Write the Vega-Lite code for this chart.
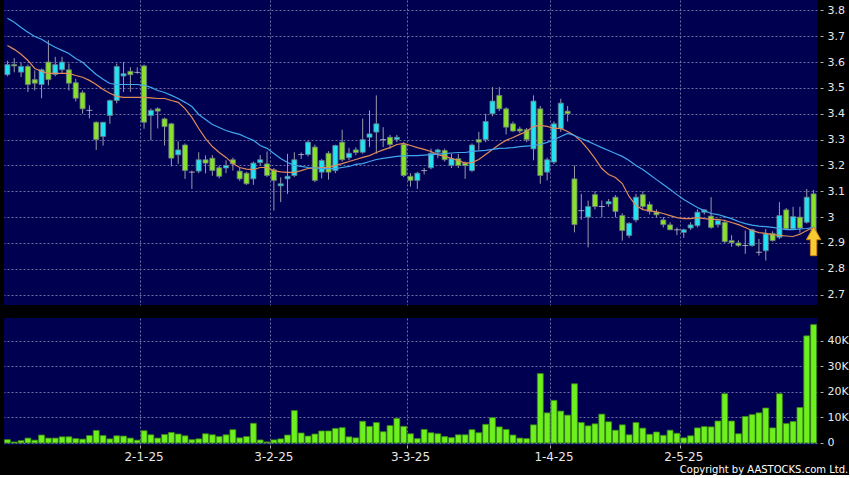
{
  "$schema": "https://vega.github.io/schema/vega-lite/v6.json",
  "background": "#000000",
  "padding": {"left": 4, "top": 0, "right": 0, "bottom": 0},
  "config": {
    "view": {"fill": "#000050", "stroke": null},
    "font": "DejaVu Sans",
    "axis": {"labelFont": "DejaVu Sans", "labelColor": "#e8e8e8", "labelFontSize": 11, "labelOverlap": false, "gridColor": "#7070a0", "gridDash": [2, 2], "gridWidth": 1, "tickColor": "#b0b0b0", "domain": false, "title": null},
    "concat": {"spacing": 13}
  },
  "title": {"text": "Copyright by AASTOCKS.com Ltd.", "orient": "bottom", "anchor": "end", "color": "#ffffff", "fontSize": 10, "font": "DejaVu Sans", "fontWeight": "normal", "offset": 3},
  "datasets": {
    "k": [
      {"date": "2024-12-02", "open": 3.551, "high": 3.605, "low": 3.545, "close": 3.59, "volume": 1300, "ma10": 3.664, "ma20": 3.769},
      {"date": "2024-12-03", "open": 3.59, "high": 3.615, "low": 3.56, "close": 3.585, "volume": 400, "ma10": 3.649, "ma20": 3.754},
      {"date": "2024-12-04", "open": 3.561, "high": 3.597, "low": 3.542, "close": 3.583, "volume": 900, "ma10": 3.63, "ma20": 3.734},
      {"date": "2024-12-05", "open": 3.583, "high": 3.59, "low": 3.484, "close": 3.513, "volume": 1900, "ma10": 3.606, "ma20": 3.715},
      {"date": "2024-12-06", "open": 3.532, "high": 3.568, "low": 3.49, "close": 3.518, "volume": 1100, "ma10": 3.575, "ma20": 3.699},
      {"date": "2024-12-09", "open": 3.513, "high": 3.575, "low": 3.46, "close": 3.57, "volume": 3100, "ma10": 3.564, "ma20": 3.688},
      {"date": "2024-12-10", "open": 3.6, "high": 3.684, "low": 3.51, "close": 3.532, "volume": 1900, "ma10": 3.556, "ma20": 3.672},
      {"date": "2024-12-11", "open": 3.552, "high": 3.62, "low": 3.545, "close": 3.59, "volume": 1900, "ma10": 3.556, "ma20": 3.657},
      {"date": "2024-12-12", "open": 3.57, "high": 3.62, "low": 3.555, "close": 3.6, "volume": 2400, "ma10": 3.556, "ma20": 3.645},
      {"date": "2024-12-13", "open": 3.57, "high": 3.594, "low": 3.49, "close": 3.518, "volume": 2400, "ma10": 3.556, "ma20": 3.633},
      {"date": "2024-12-16", "open": 3.52, "high": 3.535, "low": 3.448, "close": 3.46, "volume": 1700, "ma10": 3.548, "ma20": 3.614},
      {"date": "2024-12-17", "open": 3.481, "high": 3.49, "low": 3.4, "close": 3.419, "volume": 1500, "ma10": 3.541, "ma20": 3.599},
      {"date": "2024-12-18", "open": 3.413, "high": 3.432, "low": 3.382, "close": 3.413, "volume": 2900, "ma10": 3.529, "ma20": 3.575},
      {"date": "2024-12-19", "open": 3.367, "high": 3.37, "low": 3.26, "close": 3.3, "volume": 4900, "ma10": 3.513, "ma20": 3.552},
      {"date": "2024-12-20", "open": 3.312, "high": 3.367, "low": 3.277, "close": 3.367, "volume": 2900, "ma10": 3.494, "ma20": 3.533},
      {"date": "2024-12-23", "open": 3.393, "high": 3.455, "low": 3.361, "close": 3.451, "volume": 1600, "ma10": 3.479, "ma20": 3.517},
      {"date": "2024-12-24", "open": 3.451, "high": 3.594, "low": 3.44, "close": 3.583, "volume": 2800, "ma10": 3.467, "ma20": 3.513},
      {"date": "2024-12-27", "open": 3.546, "high": 3.6, "low": 3.484, "close": 3.555, "volume": 2700, "ma10": 3.463, "ma20": 3.513},
      {"date": "2024-12-30", "open": 3.564, "high": 3.58, "low": 3.484, "close": 3.551, "volume": 1900, "ma10": 3.463, "ma20": 3.513},
      {"date": "2024-12-31", "open": 3.56, "high": 3.58, "low": 3.555, "close": 3.56, "volume": 1100, "ma10": 3.463, "ma20": 3.513},
      {"date": "2025-01-02", "open": 3.585, "high": 3.59, "low": 3.342, "close": 3.367, "volume": 4800, "ma10": 3.463, "ma20": 3.51},
      {"date": "2025-01-03", "open": 3.393, "high": 3.42, "low": 3.297, "close": 3.413, "volume": 3200, "ma10": 3.461, "ma20": 3.502},
      {"date": "2025-01-06", "open": 3.419, "high": 3.425, "low": 3.343, "close": 3.41, "volume": 1900, "ma10": 3.459, "ma20": 3.49},
      {"date": "2025-01-07", "open": 3.38, "high": 3.385, "low": 3.277, "close": 3.35, "volume": 3300, "ma10": 3.459, "ma20": 3.482},
      {"date": "2025-01-08", "open": 3.361, "high": 3.365, "low": 3.196, "close": 3.228, "volume": 4100, "ma10": 3.451, "ma20": 3.471},
      {"date": "2025-01-09", "open": 3.241, "high": 3.293, "low": 3.206, "close": 3.26, "volume": 3500, "ma10": 3.444, "ma20": 3.459},
      {"date": "2025-01-10", "open": 3.279, "high": 3.285, "low": 3.148, "close": 3.18, "volume": 2800, "ma10": 3.42, "ma20": 3.444},
      {"date": "2025-01-13", "open": 3.174, "high": 3.18, "low": 3.109, "close": 3.174, "volume": 1300, "ma10": 3.386, "ma20": 3.428},
      {"date": "2025-01-14", "open": 3.178, "high": 3.251, "low": 3.17, "close": 3.222, "volume": 1600, "ma10": 3.343, "ma20": 3.397},
      {"date": "2025-01-15", "open": 3.222, "high": 3.239, "low": 3.169, "close": 3.209, "volume": 3600, "ma10": 3.304, "ma20": 3.378},
      {"date": "2025-01-16", "open": 3.228, "high": 3.24, "low": 3.16, "close": 3.18, "volume": 3200, "ma10": 3.273, "ma20": 3.358},
      {"date": "2025-01-17", "open": 3.191, "high": 3.2, "low": 3.15, "close": 3.158, "volume": 2500, "ma10": 3.25, "ma20": 3.347},
      {"date": "2025-01-20", "open": 3.19, "high": 3.22, "low": 3.17, "close": 3.2, "volume": 3200, "ma10": 3.231, "ma20": 3.335},
      {"date": "2025-01-21", "open": 3.222, "high": 3.23, "low": 3.18, "close": 3.206, "volume": 5200, "ma10": 3.207, "ma20": 3.327},
      {"date": "2025-01-22", "open": 3.178, "high": 3.19, "low": 3.14, "close": 3.148, "volume": 2000, "ma10": 3.192, "ma20": 3.32},
      {"date": "2025-01-23", "open": 3.17, "high": 3.175, "low": 3.125, "close": 3.129, "volume": 2500, "ma10": 3.186, "ma20": 3.308},
      {"date": "2025-01-24", "open": 3.148, "high": 3.215, "low": 3.125, "close": 3.209, "volume": 7700, "ma10": 3.184, "ma20": 3.297},
      {"date": "2025-01-27", "open": 3.211, "high": 3.24, "low": 3.2, "close": 3.222, "volume": 1200, "ma10": 3.192, "ma20": 3.277},
      {"date": "2025-01-28", "open": 3.206, "high": 3.254, "low": 3.155, "close": 3.161, "volume": 400, "ma10": 3.192, "ma20": 3.266},
      {"date": "2025-02-03", "open": 3.183, "high": 3.19, "low": 3.025, "close": 3.142, "volume": 1200, "ma10": 3.18, "ma20": 3.246},
      {"date": "2025-02-04", "open": 3.121, "high": 3.154, "low": 3.058, "close": 3.129, "volume": 1600, "ma10": 3.175, "ma20": 3.227},
      {"date": "2025-02-05", "open": 3.148, "high": 3.245, "low": 3.09, "close": 3.158, "volume": 3100, "ma10": 3.173, "ma20": 3.211},
      {"date": "2025-02-06", "open": 3.161, "high": 3.251, "low": 3.155, "close": 3.222, "volume": 12700, "ma10": 3.173, "ma20": 3.2},
      {"date": "2025-02-07", "open": 3.242, "high": 3.25, "low": 3.225, "close": 3.242, "volume": 3900, "ma10": 3.18, "ma20": 3.196},
      {"date": "2025-02-10", "open": 3.242, "high": 3.295, "low": 3.235, "close": 3.29, "volume": 2700, "ma10": 3.188, "ma20": 3.192},
      {"date": "2025-02-11", "open": 3.271, "high": 3.28, "low": 3.135, "close": 3.142, "volume": 3500, "ma10": 3.19, "ma20": 3.19},
      {"date": "2025-02-12", "open": 3.174, "high": 3.225, "low": 3.15, "close": 3.219, "volume": 4700, "ma10": 3.192, "ma20": 3.188},
      {"date": "2025-02-13", "open": 3.247, "high": 3.255, "low": 3.145, "close": 3.174, "volume": 4700, "ma10": 3.192, "ma20": 3.188},
      {"date": "2025-02-14", "open": 3.18, "high": 3.28, "low": 3.17, "close": 3.277, "volume": 5700, "ma10": 3.2, "ma20": 3.188},
      {"date": "2025-02-17", "open": 3.29, "high": 3.338, "low": 3.215, "close": 3.222, "volume": 6000, "ma10": 3.207, "ma20": 3.192},
      {"date": "2025-02-18", "open": 3.23, "high": 3.268, "low": 3.22, "close": 3.247, "volume": 2400, "ma10": 3.215, "ma20": 3.196},
      {"date": "2025-02-19", "open": 3.26, "high": 3.27, "low": 3.24, "close": 3.25, "volume": 2000, "ma10": 3.223, "ma20": 3.204},
      {"date": "2025-02-20", "open": 3.251, "high": 3.381, "low": 3.245, "close": 3.3, "volume": 8500, "ma10": 3.231, "ma20": 3.207},
      {"date": "2025-02-21", "open": 3.309, "high": 3.413, "low": 3.271, "close": 3.322, "volume": 6500, "ma10": 3.238, "ma20": 3.215},
      {"date": "2025-02-24", "open": 3.329, "high": 3.471, "low": 3.245, "close": 3.361, "volume": 8000, "ma10": 3.25, "ma20": 3.223},
      {"date": "2025-02-25", "open": 3.3, "high": 3.348, "low": 3.271, "close": 3.3, "volume": 4400, "ma10": 3.26, "ma20": 3.227},
      {"date": "2025-02-26", "open": 3.309, "high": 3.318, "low": 3.265, "close": 3.281, "volume": 6800, "ma10": 3.269, "ma20": 3.231},
      {"date": "2025-02-27", "open": 3.3, "high": 3.318, "low": 3.29, "close": 3.309, "volume": 9600, "ma10": 3.281, "ma20": 3.235},
      {"date": "2025-02-28", "open": 3.281, "high": 3.29, "low": 3.155, "close": 3.161, "volume": 6500, "ma10": 3.285, "ma20": 3.237},
      {"date": "2025-03-03", "open": 3.158, "high": 3.17, "low": 3.118, "close": 3.142, "volume": 3600, "ma10": 3.277, "ma20": 3.238},
      {"date": "2025-03-04", "open": 3.142, "high": 3.175, "low": 3.109, "close": 3.17, "volume": 1700, "ma10": 3.269, "ma20": 3.238},
      {"date": "2025-03-05", "open": 3.18, "high": 3.19, "low": 3.165, "close": 3.18, "volume": 5300, "ma10": 3.262, "ma20": 3.24},
      {"date": "2025-03-06", "open": 3.191, "high": 3.265, "low": 3.185, "close": 3.247, "volume": 4000, "ma10": 3.254, "ma20": 3.242},
      {"date": "2025-03-07", "open": 3.251, "high": 3.265, "low": 3.228, "close": 3.26, "volume": 3600, "ma10": 3.242, "ma20": 3.244},
      {"date": "2025-03-10", "open": 3.258, "high": 3.265, "low": 3.215, "close": 3.222, "volume": 2500, "ma10": 3.235, "ma20": 3.246},
      {"date": "2025-03-11", "open": 3.2, "high": 3.245, "low": 3.19, "close": 3.226, "volume": 2100, "ma10": 3.227, "ma20": 3.248},
      {"date": "2025-03-12", "open": 3.226, "high": 3.245, "low": 3.19, "close": 3.2, "volume": 3200, "ma10": 3.219, "ma20": 3.25},
      {"date": "2025-03-13", "open": 3.209, "high": 3.215, "low": 3.148, "close": 3.199, "volume": 3200, "ma10": 3.209, "ma20": 3.25},
      {"date": "2025-03-14", "open": 3.18, "high": 3.285, "low": 3.175, "close": 3.279, "volume": 5200, "ma10": 3.211, "ma20": 3.254},
      {"date": "2025-03-17", "open": 3.3, "high": 3.33, "low": 3.26, "close": 3.29, "volume": 4000, "ma10": 3.223, "ma20": 3.256},
      {"date": "2025-03-18", "open": 3.3, "high": 3.4, "low": 3.29, "close": 3.37, "volume": 7300, "ma10": 3.242, "ma20": 3.258},
      {"date": "2025-03-19", "open": 3.4, "high": 3.503, "low": 3.39, "close": 3.449, "volume": 9900, "ma10": 3.262, "ma20": 3.262},
      {"date": "2025-03-20", "open": 3.471, "high": 3.503, "low": 3.41, "close": 3.419, "volume": 6300, "ma10": 3.281, "ma20": 3.266},
      {"date": "2025-03-21", "open": 3.419, "high": 3.425, "low": 3.32, "close": 3.348, "volume": 5300, "ma10": 3.297, "ma20": 3.267},
      {"date": "2025-03-24", "open": 3.361, "high": 3.37, "low": 3.33, "close": 3.333, "volume": 3100, "ma10": 3.308, "ma20": 3.269},
      {"date": "2025-03-25", "open": 3.341, "high": 3.35, "low": 3.325, "close": 3.333, "volume": 1900, "ma10": 3.32, "ma20": 3.273},
      {"date": "2025-03-26", "open": 3.338, "high": 3.345, "low": 3.29, "close": 3.3, "volume": 1700, "ma10": 3.331, "ma20": 3.275},
      {"date": "2025-03-27", "open": 3.264, "high": 3.471, "low": 3.22, "close": 3.449, "volume": 7100, "ma10": 3.351, "ma20": 3.277},
      {"date": "2025-03-28", "open": 3.419, "high": 3.43, "low": 3.129, "close": 3.161, "volume": 27200, "ma10": 3.355, "ma20": 3.281},
      {"date": "2025-03-31", "open": 3.174, "high": 3.23, "low": 3.142, "close": 3.222, "volume": 11800, "ma10": 3.351, "ma20": 3.289},
      {"date": "2025-04-01", "open": 3.213, "high": 3.37, "low": 3.205, "close": 3.361, "volume": 16700, "ma10": 3.343, "ma20": 3.3},
      {"date": "2025-04-02", "open": 3.342, "high": 3.458, "low": 3.33, "close": 3.441, "volume": 12500, "ma10": 3.343, "ma20": 3.312},
      {"date": "2025-04-03", "open": 3.41, "high": 3.43, "low": 3.37, "close": 3.4, "volume": 10900, "ma10": 3.331, "ma20": 3.324},
      {"date": "2025-04-07", "open": 3.148, "high": 3.2, "low": 2.941, "close": 2.971, "volume": 23200, "ma10": 3.316, "ma20": 3.316},
      {"date": "2025-04-08", "open": 3.025, "high": 3.09, "low": 2.99, "close": 3.025, "volume": 8000, "ma10": 3.293, "ma20": 3.304},
      {"date": "2025-04-09", "open": 3.0, "high": 3.064, "low": 2.883, "close": 3.041, "volume": 6700, "ma10": 3.262, "ma20": 3.293},
      {"date": "2025-04-10", "open": 3.087, "high": 3.1, "low": 3.03, "close": 3.041, "volume": 7500, "ma10": 3.227, "ma20": 3.281},
      {"date": "2025-04-11", "open": 3.041, "high": 3.064, "low": 3.0, "close": 3.041, "volume": 11300, "ma10": 3.188, "ma20": 3.269},
      {"date": "2025-04-14", "open": 3.051, "high": 3.07, "low": 3.04, "close": 3.06, "volume": 8300, "ma10": 3.165, "ma20": 3.258},
      {"date": "2025-04-15", "open": 3.077, "high": 3.085, "low": 3.0, "close": 3.022, "volume": 5000, "ma10": 3.153, "ma20": 3.246},
      {"date": "2025-04-16", "open": 3.006, "high": 3.015, "low": 2.909, "close": 2.948, "volume": 7100, "ma10": 3.13, "ma20": 3.235},
      {"date": "2025-04-17", "open": 2.929, "high": 2.98, "low": 2.92, "close": 2.976, "volume": 3200, "ma10": 3.08, "ma20": 3.219},
      {"date": "2025-04-22", "open": 2.989, "high": 3.09, "low": 2.98, "close": 3.077, "volume": 8000, "ma10": 3.045, "ma20": 3.2},
      {"date": "2025-04-23", "open": 3.087, "high": 3.1, "low": 3.03, "close": 3.041, "volume": 5800, "ma10": 3.029, "ma20": 3.184},
      {"date": "2025-04-24", "open": 3.049, "high": 3.06, "low": 3.01, "close": 3.022, "volume": 3400, "ma10": 3.025, "ma20": 3.165},
      {"date": "2025-04-25", "open": 3.019, "high": 3.03, "low": 3.0, "close": 3.009, "volume": 4300, "ma10": 3.02, "ma20": 3.145},
      {"date": "2025-04-28", "open": 2.989, "high": 3.0, "low": 2.96, "close": 2.971, "volume": 3000, "ma10": 3.014, "ma20": 3.126},
      {"date": "2025-04-29", "open": 2.97, "high": 2.98, "low": 2.95, "close": 2.951, "volume": 5000, "ma10": 3.006, "ma20": 3.107},
      {"date": "2025-04-30", "open": 2.951, "high": 2.96, "low": 2.93, "close": 2.951, "volume": 3800, "ma10": 2.998, "ma20": 3.087},
      {"date": "2025-05-02", "open": 2.941, "high": 2.955, "low": 2.92, "close": 2.951, "volume": 2000, "ma10": 2.994, "ma20": 3.068},
      {"date": "2025-05-06", "open": 2.958, "high": 2.98, "low": 2.95, "close": 2.97, "volume": 2800, "ma10": 2.994, "ma20": 3.053},
      {"date": "2025-05-07", "open": 2.967, "high": 3.03, "low": 2.96, "close": 3.019, "volume": 5900, "ma10": 2.998, "ma20": 3.037},
      {"date": "2025-05-08", "open": 3.019, "high": 3.03, "low": 3.01, "close": 3.028, "volume": 6400, "ma10": 2.994, "ma20": 3.025},
      {"date": "2025-05-09", "open": 3.004, "high": 3.077, "low": 2.955, "close": 2.96, "volume": 6300, "ma10": 2.991, "ma20": 3.014},
      {"date": "2025-05-12", "open": 2.971, "high": 2.99, "low": 2.96, "close": 2.987, "volume": 8600, "ma10": 2.991, "ma20": 3.01},
      {"date": "2025-05-13", "open": 2.98, "high": 2.99, "low": 2.9, "close": 2.905, "volume": 19300, "ma10": 2.987, "ma20": 3.002},
      {"date": "2025-05-14", "open": 2.909, "high": 2.93, "low": 2.885, "close": 2.901, "volume": 8600, "ma10": 2.979, "ma20": 2.994},
      {"date": "2025-05-15", "open": 2.9, "high": 2.91, "low": 2.885, "close": 2.89, "volume": 3600, "ma10": 2.971, "ma20": 2.983},
      {"date": "2025-05-16", "open": 2.89, "high": 2.948, "low": 2.858, "close": 2.89, "volume": 10400, "ma10": 2.96, "ma20": 2.975},
      {"date": "2025-05-19", "open": 2.89, "high": 2.955, "low": 2.885, "close": 2.951, "volume": 11100, "ma10": 2.948, "ma20": 2.969},
      {"date": "2025-05-20", "open": 2.864, "high": 2.916, "low": 2.851, "close": 2.864, "volume": 11800, "ma10": 2.94, "ma20": 2.965},
      {"date": "2025-05-21", "open": 2.87, "high": 2.954, "low": 2.832, "close": 2.935, "volume": 13700, "ma10": 2.937, "ma20": 2.963},
      {"date": "2025-05-22", "open": 2.937, "high": 2.945, "low": 2.905, "close": 2.909, "volume": 5900, "ma10": 2.932, "ma20": 2.96},
      {"date": "2025-05-23", "open": 2.922, "high": 3.058, "low": 2.915, "close": 3.006, "volume": 19300, "ma10": 2.929, "ma20": 2.956},
      {"date": "2025-05-26", "open": 3.028, "high": 3.035, "low": 2.95, "close": 2.955, "volume": 7600, "ma10": 2.927, "ma20": 2.952},
      {"date": "2025-05-27", "open": 2.955, "high": 3.04, "low": 2.95, "close": 3.002, "volume": 8400, "ma10": 2.925, "ma20": 2.952},
      {"date": "2025-05-28", "open": 3.0, "high": 3.04, "low": 2.94, "close": 2.958, "volume": 13900, "ma10": 2.934, "ma20": 2.954},
      {"date": "2025-05-29", "open": 2.98, "high": 3.109, "low": 2.975, "close": 3.077, "volume": 42000, "ma10": 2.948, "ma20": 2.956},
      {"date": "2025-05-30", "open": 3.09, "high": 3.105, "low": 2.929, "close": 2.929, "volume": 46400, "ma10": 2.96, "ma20": 2.96}
    ],
    "signal": [{"date": "2025-05-30", "price": 2.907}]
  },
  "vconcat": [
    {
      "width": 813,
      "height": 305,
      "layer": [
        {
          "data": {"name": "k"},
          "mark": {"type": "rule", "color": "#9a9aaa", "strokeWidth": 1},
          "encoding": {
            "x": {"field": "date", "type": "ordinal", "scale": {"type": "band", "paddingInner": 0, "paddingOuter": 0},
                  "axis": {"orient": "bottom", "values": ["2025-01-02", "2025-02-03", "2025-03-03", "2025-04-01", "2025-05-02"], "bandPosition": 0, "labels": false, "ticks": false, "grid": true, "domain": false, "title": null}},
            "y": {"field": "low", "type": "quantitative", "scale": {"domain": [2.66, 3.84], "nice": false, "zero": false},
                  "axis": {"orient": "right", "values": [2.7, 2.8, 2.9, 3.0, 3.1, 3.2, 3.3, 3.4, 3.5, 3.6, 3.7, 3.8], "tickCount": 30, "format": ".1~f", "tickSize": 3, "offset": 3, "labelPadding": 4, "grid": true, "title": null}},
            "y2": {"field": "high"}
          }
        },
        {
          "data": {"name": "k"},
          "transform": [{"filter": "datum.open != datum.close"}],
          "mark": {"type": "bar", "width": {"band": 0.74}, "stroke": "#6a7888", "strokeWidth": 0.8},
          "encoding": {
            "x": {"field": "date", "type": "ordinal"},
            "y": {"field": "open", "type": "quantitative"},
            "y2": {"field": "close"},
            "fill": {"condition": {"test": "datum.close > datum.open", "value": "#22e2f2"}, "value": "#88e028"}
          }
        },
        {
          "data": {"name": "k"},
          "transform": [{"filter": "datum.open == datum.close"}],
          "mark": {"type": "tick", "color": "#d8d8d8", "thickness": 1, "size": 6},
          "encoding": {
            "x": {"field": "date", "type": "ordinal"},
            "y": {"field": "open", "type": "quantitative"}
          }
        },
        {
          "data": {"name": "k"},
          "mark": {"type": "line", "color": "#e08c58", "strokeWidth": 1.2},
          "encoding": {
            "x": {"field": "date", "type": "ordinal"},
            "y": {"field": "ma10", "type": "quantitative"}
          }
        },
        {
          "data": {"name": "k"},
          "mark": {"type": "line", "color": "#40a8ec", "strokeWidth": 1.2},
          "encoding": {
            "x": {"field": "date", "type": "ordinal"},
            "y": {"field": "ma20", "type": "quantitative"}
          }
        },
        {
          "data": {"name": "signal"},
          "mark": {"type": "point", "shape": "M0,-1L0.5,-0.1L0.22,-0.1L0.22,1L-0.22,1L-0.22,-0.1L-0.5,-0.1Z", "size": 841, "filled": true, "fill": "#f8cc30", "stroke": "#c88018", "strokeWidth": 1, "opacity": 1},
          "encoding": {
            "x": {"field": "date", "type": "ordinal"},
            "y": {"field": "price", "type": "quantitative"}
          }
        }
      ]
    },
    {
      "width": 813,
      "height": 127,
      "data": {"name": "k"},
      "mark": {"type": "bar", "width": {"band": 0.86}, "fill": "#6ef01e", "stroke": "#3c8c14", "strokeWidth": 0.8},
      "encoding": {
        "x": {"field": "date", "type": "ordinal", "scale": {"type": "band", "paddingInner": 0, "paddingOuter": 0},
              "axis": {"orient": "bottom", "values": ["2025-01-02", "2025-02-03", "2025-03-03", "2025-04-01", "2025-05-02"], "bandPosition": 0, "labelAngle": 0, "labelFontSize": 12, "grid": true, "tickSize": 3, "labelPadding": 3, "labelExpr": "utcdate(toDate(datum.value)) + '-' + (utcmonth(toDate(datum.value)) + 1) + '-' + (utcyear(toDate(datum.value)) % 100)", "title": null}},
        "y": {"field": "volume", "type": "quantitative", "scale": {"domain": [-800, 49000], "nice": false, "zero": false},
              "axis": {"orient": "right", "values": [0, 10000, 20000, 30000, 40000], "tickCount": 10, "labelExpr": "datum.value == 0 ? '0' : (datum.value / 1000) + 'K'", "tickSize": 3, "offset": 3, "labelPadding": 4, "grid": true, "title": null}}
      }
    }
  ]
}
